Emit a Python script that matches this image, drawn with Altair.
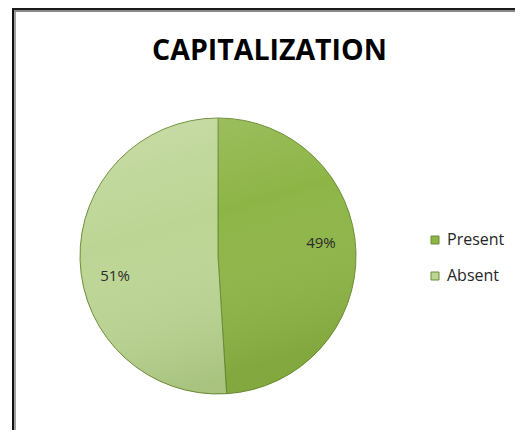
import altair as alt
import pandas as pd

categories = ["Present", "Absent"]
values = [49, 51]
labels = ["49%", "51%"]
order_idx = [0, 1]
colors = ["#8db546", "#bcd594"]

df = pd.DataFrame({"category": categories, "value": values, "label": labels, "idx": order_idx})

W, H = 507, 422
CX, CY, R = 210, 248, 138

one = alt.Data(values=[{}])

left_dark = alt.Chart(one).mark_rule(color="#111111", strokeWidth=2).encode(
    x=alt.value(5), y=alt.value(0), y2=alt.value(H))
left_grey = alt.Chart(one).mark_rule(color="#a0a0a0", strokeWidth=2).encode(
    x=alt.value(7), y=alt.value(2), y2=alt.value(H))
top_dark = alt.Chart(one).mark_rule(color="#1a1a1a", strokeWidth=2).encode(
    x=alt.value(4), x2=alt.value(W), y=alt.value(1))
top_grey = alt.Chart(one).mark_rule(color="#8a8a8a", strokeWidth=2).encode(
    x=alt.value(6), x2=alt.value(W), y=alt.value(3))

base = alt.Chart(df)

pie = base.mark_arc(radius=R, stroke="#6b8c35", strokeWidth=1).encode(
    theta=alt.Theta("value:Q", stack=True),
    color=alt.Color(
        "category:N",
        scale=alt.Scale(domain=categories, range=colors),
        legend=alt.Legend(
            orient="none", legendX=419, legendY=224, title=None,
            symbolType="square", symbolSize=64, symbolStrokeWidth=1,
            labelFont="Open Sans", labelFontSize=16, labelColor="#262626",
            rowPadding=20, labelOffset=4,
        ),
    ),
    order=alt.Order("idx:Q"),
    x=alt.value(CX),
    y=alt.value(CY),
)

shade = alt.Chart(one).mark_arc(
    radius=R,
    fill=alt.Gradient(
        gradient="linear", x1=0, y1=0, x2=0.3, y2=1,
        stops=[
            alt.GradientStop(color="rgba(255,255,255,0.18)", offset=0),
            alt.GradientStop(color="rgba(255,255,255,0)", offset=0.45),
            alt.GradientStop(color="rgba(70,100,20,0.16)", offset=1),
        ],
    ),
).encode(theta=alt.value(0), theta2=alt.value(6.2832), x=alt.value(CX), y=alt.value(CY))

txt = base.mark_text(
    radius=103, font="Open Sans", fontSize=15, color="#2b2b2b",
    dy={"expr": "datum.category === 'Present' ? -10 : 17"},
).encode(
    theta=alt.Theta("value:Q", stack=True),
    text="label:N",
    order=alt.Order("idx:Q"),
    x=alt.value(CX),
    y=alt.value(CY),
)

chart = alt.layer(left_dark, left_grey, top_dark, top_grey, pie, shade, txt).properties(
    width=W, height=H, padding=0, autosize="none",
    title=alt.TitleParams(
        "CAPITALIZATION", font="Open Sans", fontSize=28.5, fontWeight="bold",
        color="#000000", anchor="middle", frame="group", baseline="alphabetic",
        offset=0, dy=81, dx=8,
    ),
    background="white",
).configure_view(stroke=None)

chart.save("out.html", embed_options={"renderer": "svg", "actions": False})
